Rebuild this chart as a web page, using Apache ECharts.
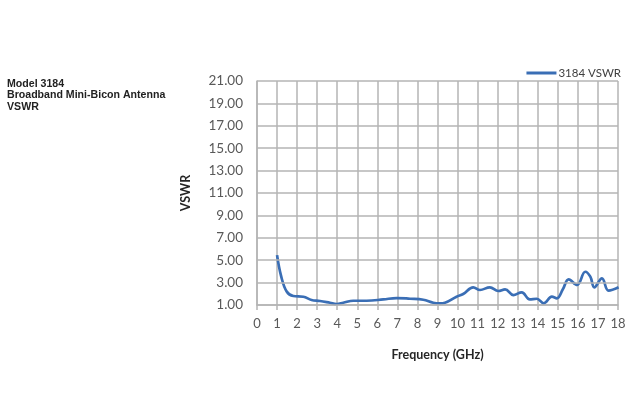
<!DOCTYPE html>
<html><head><meta charset="utf-8">
<script src="https://cdn.jsdelivr.net/npm/echarts@6/dist/echarts.min.js"></script>
<style>html,body{margin:0;padding:0;background:#fff}#c{width:640px;height:420px}</style>
</head><body><div id="c"></div>
<script>
const freq = [1, 1.2, 1.48, 1.81, 2.31, 2.72, 3.14, 3.64, 3.97, 4.3, 4.8, 5.47, 6.3, 6.96, 7.63, 8.29, 8.79, 9.12, 9.37, 9.95, 10.28, 10.78, 11.12, 11.61, 12.03, 12.37, 12.78, 13.2, 13.6, 13.95, 14.3, 14.7, 14.95, 15.25, 15.54, 15.96, 16.37, 16.62, 16.82, 17.2, 17.53, 18.03];
const vswr = [5.45, 3.6, 2.2, 1.8, 1.74, 1.45, 1.36, 1.2, 1.09, 1.2, 1.38, 1.38, 1.5, 1.62, 1.56, 1.47, 1.2, 1.15, 1.2, 1.74, 1.98, 2.58, 2.34, 2.58, 2.25, 2.4, 1.89, 2.13, 1.5, 1.56, 1.15, 1.74, 1.6, 2.4, 3.29, 2.79, 3.97, 3.53, 2.58, 3.38, 2.28, 2.58];
const xTicks = [0, 18, 1];
const yTicks = [1, 3, 5, 7, 9, 11, 13, 15, 17, 19, 21];
const seriesName = '3184 VSWR';
const titleLines = ['Model 3184', 'Broadband Mini-Bicon Antenna', 'VSWR'];

const chart = echarts.init(document.getElementById('c'));
const gridColor = '#b4b4b4';
const labelColor = '#595959';
chart.setOption({
  animation: false,
  title: {
    text: titleLines.join('\n'), left: 2, top: 73,
    textStyle: {fontFamily: 'Liberation Sans', fontSize: 10.6, fontWeight: 'bold', color: '#222', lineHeight: 11.5}
  },
  legend: {
    data: [seriesName], right: 14, top: 62, icon: 'rect', itemWidth: 30, itemHeight: 3, itemGap: 4,
    textStyle: {fontFamily: 'Lato', fontSize: 11.5, color: '#404040', padding: [0,0,0,-3]}
  },
  grid: {left: 257, right: 22, top: 81, bottom: 115},
  xAxis: {
    type: 'value', min: xTicks[0], max: xTicks[1], interval: xTicks[2],
    name: 'Frequency (GHz)', nameLocation: 'middle', nameGap: 43,
    nameTextStyle: {fontFamily: 'Lato', fontSize: 12.5, fontWeight: 'bold', color: '#262626'},
    axisLine: {show: true, lineStyle: {color: gridColor, width: 1.5}},
    axisTick: {show: true, length: 5, lineStyle: {color: gridColor, width: 1.5}},
    axisLabel: {fontFamily: 'Lato', fontSize: 13, color: labelColor, margin: 12},
    splitLine: {show: true, lineStyle: {color: gridColor, width: 1.5}}
  },
  yAxis: {
    type: 'value', min: yTicks[0], max: yTicks[yTicks.length - 1],
    name: 'VSWR', nameLocation: 'middle', nameGap: 65, nameRotate: 90,
    nameTextStyle: {fontFamily: 'Lato', fontSize: 12.5, fontWeight: 'bold', color: '#262626'},
    axisLine: {show: true, lineStyle: {color: gridColor, width: 1.5}},
    axisTick: {show: false}, axisLabel: {show: false}, splitLine: {show: false}
  },
  series: [{
    name: seriesName, type: 'line', smooth: 0.4, showSymbol: false,
    data: freq.map((f, i) => [f, vswr[i]]),
    lineStyle: {color: '#3a6eb5', width: 2.7}, itemStyle: {color: '#3a6eb5'},
    markLine: {
      silent: true, symbol: 'none', animation: false,
      lineStyle: {color: gridColor, width: 1.5, type: 'solid'},
      label: {position: 'start', distance: 14, formatter: p => p.value.toFixed(2),
        fontFamily: 'Lato', fontSize: 13.5, color: labelColor},
      emphasis: {disabled: true},
      data: yTicks.map(v => ({yAxis: v}))
    },
    z: 3
  }]
});
</script></body></html>
